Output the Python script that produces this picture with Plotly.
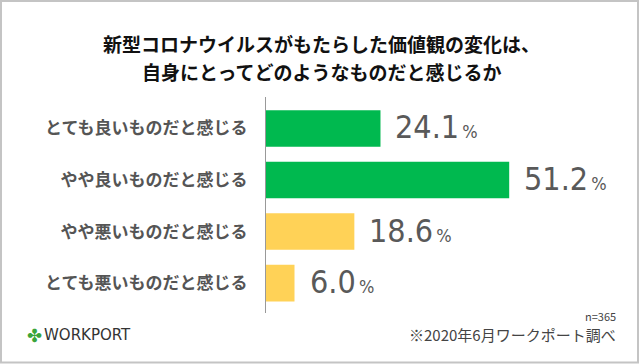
import plotly.graph_objects as go

categories = ["とても良いものだと感じる", "やや良いものだと感じる", "やや悪いものだと感じる", "とても悪いものだと感じる"]
values = [24.1, 51.2, 18.6, 6.0]
bar_colors = ["#00b94f", "#00b94f", "#ffd257", "#ffd257"]
title_lines = ["新型コロナウイルスがもたらした価値観の変化は、", "自身にとってどのようなものだと感じるか"]
sample_note = "n=365"
source_note = "※2020年6月ワークポート調べ"
logo_text = "WORKPORT"

W, H = 640, 364
L, R, T, B = 266, 4, 97, 51
PW = W - L - R
PH = H - T - B
px_per_unit = 4.75

JP = "Noto Sans CJK JP, Noto Sans, sans-serif"
NUM = "Liberation Sans Narrow, DejaVu Sans Condensed, Roboto, sans-serif"

fig = go.Figure(go.Bar(
    x=values, y=categories, orientation="h",
    marker=dict(color=bar_colors, line=dict(width=0)),
    width=0.71, hoverinfo="skip",
))

for c, v in zip(categories, values):
    fig.add_annotation(
        x=v, y=c, xref="x", yref="y", xanchor="left", yanchor="middle",
        xshift=13, yshift=1, showarrow=False,
        text=f"{v:.1f}<span style='font-size:18px'>\u2009%</span>",
        font=dict(family=NUM, size=32, color="#595959"),
    )

def px(xp):
    return (xp - L) / PW

def py(yp):
    return (H - B - yp) / PH

title_y = [43.5, 71.5]
for t, yy in zip(title_lines, title_y):
    fig.add_annotation(x=px(321), y=py(yy), xref="paper", yref="paper",
                       xanchor="center", yanchor="middle", showarrow=False,
                       text=f"<b>{t}</b>",
                       font=dict(family=JP, size=19, color="#111111"))
fig.add_annotation(x=px(618), y=py(316), xref="paper", yref="paper",
                   xanchor="right", yanchor="middle", showarrow=False,
                   text=sample_note, font=dict(family=JP, size=11, color="#444444"))
fig.add_annotation(x=px(618), y=py(334), xref="paper", yref="paper",
                   xanchor="right", yanchor="middle", showarrow=False,
                   text=source_note, font=dict(family=JP, size=15, color="#444444"))
fig.add_annotation(x=px(25), y=py(335), xref="paper", yref="paper",
                   xanchor="left", yanchor="middle", showarrow=False,
                   text="✤", font=dict(family="DejaVu Sans", size=18, color="#3aa53a"))
fig.add_annotation(x=px(42), y=py(335), xref="paper", yref="paper",
                   xanchor="left", yanchor="middle", showarrow=False,
                   text=logo_text, font=dict(family="DejaVu Sans", size=15, color="#333333"))

fig.add_shape(type="rect", xref="paper", yref="paper",
              x0=px(1), x1=px(638), y0=py(362.5), y1=py(1),
              line=dict(color="#c4c4c4", width=2), fillcolor="rgba(0,0,0,0)", layer="below")

fig.update_layout(
    width=W, height=H,
    margin=dict(l=L, r=R, t=T, b=B, pad=0),
    paper_bgcolor="white", plot_bgcolor="white",
    showlegend=False,
    xaxis=dict(range=[0, PW / px_per_unit], visible=False, fixedrange=True),
    yaxis=dict(range=[3.58, -0.61], showline=True, linecolor="#999999", linewidth=1,
               showgrid=False, zeroline=False, ticks="", ticklabelstandoff=14,
               tickfont=dict(family=JP, size=17, color="#555555", weight="bold"),
               fixedrange=True),
)

fig.write_html("out.html", config={"displayModeBar": False},
               post_script="document.body.style.margin='0';document.body.style.overflow='hidden';")
